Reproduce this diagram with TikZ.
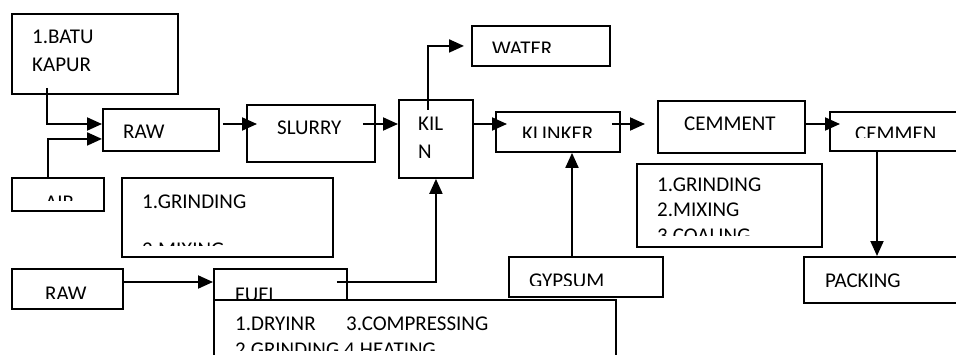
\documentclass[tikz,border=0pt]{standalone}
\usepackage{fontspec}
\setmainfont{Carlito}
\usetikzlibrary{arrows.meta}

\begin{document}
\begin{tikzpicture}[
  x=1pt,
  y=1pt,
  >={Triangle[length=15pt,width=13pt]},
  box/.style={draw, line width=1.9pt, inner sep=0pt, anchor=north west, fill=white},
  txt/.style={anchor=base west, inner sep=0pt, font=\fontsize{21}{25}\selectfont},
  arrow/.style={->, line width=2pt}
]
  \clip (0,0) rectangle (956,354);
  \coordinate (mainrow) at (0,230);
  \coordinate (lowrow) at (0,72);

  \node[box, minimum width=166, minimum height=80] (batu) at (11,341) {};
  \node[txt] (batuA) at (32,310) {1.BATU};
  \node[txt] (batuB) at (32,282) {KAPUR};

  \node[box, minimum width=92, minimum height=33] (air) at (11,177) {};
  \begin{scope}
    \clip (11,154) rectangle (103,177);
    \node[txt] (airlbl) at (45,145) {AIR};
  \end{scope}

  \node[box, minimum width=116, minimum height=42] (raw) at (102,246) {};
  \node[txt] (rawlbl) at (123,215) {RAW};

  \node[box, minimum width=211, minimum height=79] (grind) at (121,177) {};
  \node[txt] (grindA) at (142,146) {1.GRINDING};
  \begin{scope}
    \clip (121,109) rectangle (332,177);
    \node[txt] (grindB) at (142,98) {2.MIXING};
  \end{scope}

  \node[box, minimum width=111, minimum height=40] (rawb) at (11,86) {};
  \begin{scope}
    \clip (11,56) rectangle (122,86);
    \node[txt] (rawblbl) at (45,54) {RAW};
  \end{scope}

  \node[box, minimum width=133, minimum height=47] (fuel) at (213,86) {};
  \node[txt] (fuellbl) at (235,53) {FUEL};

  \node[box, minimum width=402, minimum height=80] (dry) at (213,55) {};
  \node[txt] (dryA) at (235,24) {1.DRYINR};
  \node[txt] (dryC) at (346,24) {3.COMPRESSING};
  \begin{scope}
    \clip (213,4) rectangle (615,55);
    \node[txt] (dryB) at (235,-2) {2.GRINDING 4.HEATING};
  \end{scope}

  \node[box, minimum width=128, minimum height=57] (slurry) at (246,250) {};
  \node[txt] (slurrylbl) at (277,219) {SLURRY};

  \node[box, minimum width=74, minimum height=78] (kiln) at (398,255) {};
  \node[txt] (kilnA) at (418,223) {KIL};
  \node[txt] (kilnB) at (418,196) {N};

  \node[box, minimum width=138, minimum height=40] (water) at (471,329) {};
  \begin{scope}
    \clip (471,301) rectangle (609,329);
    \node[txt] (waterlbl) at (492,298) {WATER};
  \end{scope}

  \node[box, minimum width=124, minimum height=40] (klinker) at (495,243) {};
  \begin{scope}
    \clip (495,216) rectangle (619,243);
    \node[txt] (klinkerlbl) at (522,213) {KLINKER};
  \end{scope}

  \node[box, minimum width=154, minimum height=40] (gypsum) at (508,98) {};
  \begin{scope}
    \clip (508,69) rectangle (662,98);
    \node[txt] (gypsumlbl) at (529,67) {GYPSUM};
  \end{scope}

  \node[box, minimum width=147, minimum height=52] (cemment) at (657,254) {};
  \node[txt] (cemmentlbl) at (684,223) {CEMMENT};

  \node[box, minimum width=185, minimum height=83] (coal) at (636,191) {};
  \node[txt] (coalA) at (657,162) {1.GRINDING};
  \node[txt] (coalB) at (657,138) {2.MIXING};
  \begin{scope}
    \clip (636,119) rectangle (821,191);
    \node[txt] (coalC) at (657,112) {3.COALING};
  \end{scope}

  \node[box, minimum width=141, minimum height=39] (cemmen) at (829,243) {};
  \begin{scope}
    \clip (829,216) rectangle (970,243);
    \node[txt] (cemmenlbl) at (855,213) {CEMMEN};
  \end{scope}

  \node[box, minimum width=167, minimum height=46] (packing) at (803,98) {};
  \node[txt] (packinglbl) at (825,67) {PACKING};

  \draw[arrow] ([xshift=36pt,yshift=7pt]batu.south west) |- (raw.west |- mainrow);
  \draw[arrow] ([xshift=37pt]air.north west) |- ([yshift=-9pt]raw.west);
  \draw[arrow] ([xshift=3pt]raw.east |- mainrow) -- ([xshift=11pt]slurry.west |- mainrow);
  \draw[arrow] ([xshift=-13pt]slurry.east |- mainrow) -- (kiln.west |- mainrow);
  \draw[arrow] (kiln.east |- mainrow) -- ([xshift=12pt]klinker.west |- mainrow);
  \draw[arrow] ([xshift=-9pt]klinker.east |- mainrow) -- ([xshift=-12pt]cemment.west |- mainrow);
  \draw[arrow] (cemment.east |- mainrow) -- ([xshift=11pt]cemmen.west |- mainrow);
  \draw[arrow] ([xshift=30pt,yshift=-11pt]kiln.north west) |- ([xshift=-7pt]water.west);
  \draw[arrow] ([xshift=64pt]gypsum.north west) -- ([xshift=77pt]klinker.south west);
  \draw[arrow] ([xshift=48pt]cemmen.south west) -- ([xshift=74pt]packing.north west);
  \draw[arrow] (rawb.east |- lowrow) -- (fuel.west |- lowrow);
  \draw[arrow] ([xshift=-11pt]fuel.east |- lowrow) -| (kiln.south);
\end{tikzpicture}
\end{document}
